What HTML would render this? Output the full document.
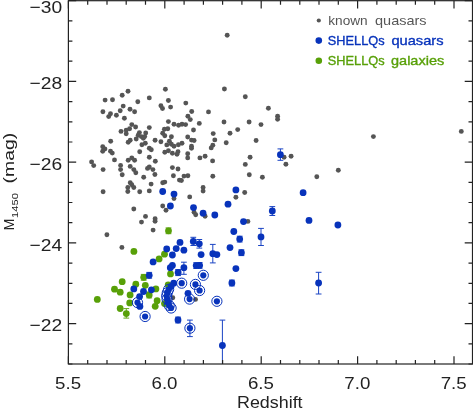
<!DOCTYPE html><html><head><meta charset="utf-8"><title>M1450 vs Redshift</title><style>html,body{margin:0;padding:0;background:#fff}svg{display:block}text{font-family:"Liberation Sans",sans-serif}</style></head><body>
<svg width="473" height="409" viewBox="0 0 473 409">
<rect width="473" height="409" fill="#fff"/>
<g fill="#555555">
<circle cx="128.0" cy="91.2" r="2.45"/>
<circle cx="122.2" cy="95.3" r="2.45"/>
<circle cx="105.1" cy="100.1" r="2.45"/>
<circle cx="112.5" cy="99.7" r="2.45"/>
<circle cx="137.8" cy="101.7" r="2.45"/>
<circle cx="149.3" cy="97.9" r="2.45"/>
<circle cx="165.4" cy="89.2" r="2.45"/>
<circle cx="168.4" cy="100.5" r="2.45"/>
<circle cx="160.9" cy="105.7" r="2.45"/>
<circle cx="162.5" cy="108.5" r="2.45"/>
<circle cx="170.6" cy="107.1" r="2.45"/>
<circle cx="123.2" cy="106.1" r="2.45"/>
<circle cx="130.0" cy="109.3" r="2.45"/>
<circle cx="134.6" cy="111.7" r="2.45"/>
<circle cx="120.2" cy="110.7" r="2.45"/>
<circle cx="102.9" cy="111.7" r="2.45"/>
<circle cx="110.5" cy="113.7" r="2.45"/>
<circle cx="108.7" cy="116.6" r="2.45"/>
<circle cx="116.4" cy="115.3" r="2.45"/>
<circle cx="124.4" cy="118.2" r="2.45"/>
<circle cx="168.4" cy="121.6" r="2.45"/>
<circle cx="174.0" cy="124.2" r="2.45"/>
<circle cx="131.8" cy="124.6" r="2.45"/>
<circle cx="135.6" cy="127.0" r="2.45"/>
<circle cx="129.6" cy="128.8" r="2.45"/>
<circle cx="126.2" cy="130.2" r="2.45"/>
<circle cx="121.0" cy="131.4" r="2.45"/>
<circle cx="126.2" cy="133.8" r="2.45"/>
<circle cx="149.3" cy="127.6" r="2.45"/>
<circle cx="139.4" cy="132.6" r="2.45"/>
<circle cx="145.7" cy="133.0" r="2.45"/>
<circle cx="138.2" cy="135.2" r="2.45"/>
<circle cx="141.3" cy="136.6" r="2.45"/>
<circle cx="144.7" cy="136.6" r="2.45"/>
<circle cx="143.3" cy="138.2" r="2.45"/>
<circle cx="136.2" cy="139.0" r="2.45"/>
<circle cx="130.2" cy="140.3" r="2.45"/>
<circle cx="128.2" cy="142.3" r="2.45"/>
<circle cx="110.7" cy="141.3" r="2.45"/>
<circle cx="164.4" cy="129.2" r="2.45"/>
<circle cx="167.8" cy="128.8" r="2.45"/>
<circle cx="162.7" cy="133.2" r="2.45"/>
<circle cx="164.8" cy="135.8" r="2.45"/>
<circle cx="171.4" cy="136.8" r="2.45"/>
<circle cx="155.1" cy="140.3" r="2.45"/>
<circle cx="160.9" cy="141.7" r="2.45"/>
<circle cx="169.4" cy="141.3" r="2.45"/>
<circle cx="166.8" cy="144.9" r="2.45"/>
<circle cx="171.4" cy="144.3" r="2.45"/>
<circle cx="174.0" cy="146.3" r="2.45"/>
<circle cx="145.3" cy="143.3" r="2.45"/>
<circle cx="141.9" cy="144.7" r="2.45"/>
<circle cx="149.3" cy="148.3" r="2.45"/>
<circle cx="151.3" cy="149.7" r="2.45"/>
<circle cx="139.7" cy="151.7" r="2.45"/>
<circle cx="102.7" cy="146.7" r="2.45"/>
<circle cx="104.9" cy="148.9" r="2.45"/>
<circle cx="102.7" cy="151.3" r="2.45"/>
<circle cx="110.5" cy="151.3" r="2.45"/>
<circle cx="112.3" cy="153.1" r="2.45"/>
<circle cx="149.3" cy="157.3" r="2.45"/>
<circle cx="164.8" cy="152.3" r="2.45"/>
<circle cx="168.4" cy="150.7" r="2.45"/>
<circle cx="172.4" cy="153.3" r="2.45"/>
<circle cx="114.5" cy="159.9" r="2.45"/>
<circle cx="131.8" cy="157.9" r="2.45"/>
<circle cx="128.2" cy="160.3" r="2.45"/>
<circle cx="134.6" cy="160.3" r="2.45"/>
<circle cx="91.6" cy="161.9" r="2.45"/>
<circle cx="155.3" cy="161.3" r="2.45"/>
<circle cx="224.4" cy="89.0" r="2.45"/>
<circle cx="245.3" cy="96.7" r="2.45"/>
<circle cx="185.8" cy="103.1" r="2.45"/>
<circle cx="191.7" cy="111.5" r="2.45"/>
<circle cx="208.5" cy="111.9" r="2.45"/>
<circle cx="268.4" cy="108.3" r="2.45"/>
<circle cx="187.9" cy="116.2" r="2.45"/>
<circle cx="190.3" cy="119.6" r="2.45"/>
<circle cx="224.0" cy="122.0" r="2.45"/>
<circle cx="249.1" cy="122.0" r="2.45"/>
<circle cx="261.0" cy="124.6" r="2.45"/>
<circle cx="199.3" cy="123.4" r="2.45"/>
<circle cx="178.6" cy="125.2" r="2.45"/>
<circle cx="182.0" cy="124.2" r="2.45"/>
<circle cx="185.6" cy="124.6" r="2.45"/>
<circle cx="193.5" cy="130.0" r="2.45"/>
<circle cx="237.7" cy="129.6" r="2.45"/>
<circle cx="230.0" cy="133.2" r="2.45"/>
<circle cx="213.2" cy="133.6" r="2.45"/>
<circle cx="187.7" cy="137.0" r="2.45"/>
<circle cx="191.5" cy="140.1" r="2.45"/>
<circle cx="194.1" cy="140.5" r="2.45"/>
<circle cx="214.8" cy="139.9" r="2.45"/>
<circle cx="256.1" cy="140.5" r="2.45"/>
<circle cx="226.2" cy="142.7" r="2.45"/>
<circle cx="182.0" cy="143.3" r="2.45"/>
<circle cx="178.4" cy="144.7" r="2.45"/>
<circle cx="212.8" cy="145.3" r="2.45"/>
<circle cx="211.2" cy="147.9" r="2.45"/>
<circle cx="191.5" cy="146.3" r="2.45"/>
<circle cx="191.5" cy="148.3" r="2.45"/>
<circle cx="178.0" cy="151.7" r="2.45"/>
<circle cx="177.0" cy="154.3" r="2.45"/>
<circle cx="187.7" cy="153.7" r="2.45"/>
<circle cx="187.7" cy="157.9" r="2.45"/>
<circle cx="199.9" cy="157.9" r="2.45"/>
<circle cx="205.1" cy="156.3" r="2.45"/>
<circle cx="250.1" cy="157.3" r="2.45"/>
<circle cx="212.6" cy="160.9" r="2.45"/>
<circle cx="277.6" cy="116.2" r="2.45"/>
<circle cx="277.6" cy="119.2" r="2.45"/>
<circle cx="291.1" cy="156.3" r="2.45"/>
<circle cx="284.1" cy="157.3" r="2.45"/>
<circle cx="93.7" cy="165.6" r="2.45"/>
<circle cx="103.1" cy="169.6" r="2.45"/>
<circle cx="120.6" cy="165.4" r="2.45"/>
<circle cx="120.6" cy="169.6" r="2.45"/>
<circle cx="122.2" cy="174.7" r="2.45"/>
<circle cx="130.2" cy="166.4" r="2.45"/>
<circle cx="133.8" cy="169.6" r="2.45"/>
<circle cx="135.8" cy="172.8" r="2.45"/>
<circle cx="147.5" cy="168.4" r="2.45"/>
<circle cx="149.3" cy="167.0" r="2.45"/>
<circle cx="152.9" cy="169.6" r="2.45"/>
<circle cx="154.9" cy="174.5" r="2.45"/>
<circle cx="143.7" cy="177.3" r="2.45"/>
<circle cx="172.4" cy="167.6" r="2.45"/>
<circle cx="173.4" cy="175.7" r="2.45"/>
<circle cx="130.2" cy="182.7" r="2.45"/>
<circle cx="131.8" cy="184.7" r="2.45"/>
<circle cx="133.8" cy="187.5" r="2.45"/>
<circle cx="127.8" cy="187.5" r="2.45"/>
<circle cx="127.8" cy="191.5" r="2.45"/>
<circle cx="103.1" cy="191.7" r="2.45"/>
<circle cx="139.7" cy="191.7" r="2.45"/>
<circle cx="149.3" cy="190.9" r="2.45"/>
<circle cx="151.1" cy="184.1" r="2.45"/>
<circle cx="162.7" cy="182.7" r="2.45"/>
<circle cx="164.8" cy="182.1" r="2.45"/>
<circle cx="174.0" cy="198.6" r="2.45"/>
<circle cx="162.7" cy="206.0" r="2.45"/>
<circle cx="166.0" cy="210.2" r="2.45"/>
<circle cx="133.8" cy="209.0" r="2.45"/>
<circle cx="145.5" cy="216.4" r="2.45"/>
<circle cx="141.5" cy="222.1" r="2.45"/>
<circle cx="155.1" cy="218.8" r="2.45"/>
<circle cx="155.1" cy="221.2" r="2.45"/>
<circle cx="153.1" cy="230.1" r="2.45"/>
<circle cx="106.9" cy="234.7" r="2.45"/>
<circle cx="245.3" cy="164.4" r="2.45"/>
<circle cx="178.0" cy="169.0" r="2.45"/>
<circle cx="184.0" cy="176.1" r="2.45"/>
<circle cx="187.9" cy="175.7" r="2.45"/>
<circle cx="179.4" cy="180.1" r="2.45"/>
<circle cx="181.4" cy="180.5" r="2.45"/>
<circle cx="212.8" cy="176.3" r="2.45"/>
<circle cx="249.3" cy="174.7" r="2.45"/>
<circle cx="262.4" cy="177.3" r="2.45"/>
<circle cx="203.1" cy="187.5" r="2.45"/>
<circle cx="203.1" cy="191.1" r="2.45"/>
<circle cx="244.7" cy="192.5" r="2.45"/>
<circle cx="235.9" cy="197.3" r="2.45"/>
<circle cx="189.7" cy="196.9" r="2.45"/>
<circle cx="194.1" cy="212.2" r="2.45"/>
<circle cx="195.7" cy="214.8" r="2.45"/>
<circle cx="205.1" cy="216.2" r="2.45"/>
<circle cx="247.9" cy="221.4" r="2.45"/>
<circle cx="285.9" cy="164.2" r="2.45"/>
<circle cx="316.8" cy="176.7" r="2.45"/>
<circle cx="338.3" cy="170.2" r="2.45"/>
<circle cx="227.2" cy="35.3" r="2.45"/>
<circle cx="373.4" cy="136.6" r="2.45"/>
<circle cx="461.3" cy="131.4" r="2.45"/>
<circle cx="121.9" cy="247.4" r="2.45"/>
<circle cx="172.8" cy="297.8" r="2.45"/>
<circle cx="195.5" cy="299.4" r="2.45"/>
</g>
<g fill="#58a008">
<path d="M168.5 227.9V233.7M165.6 227.9h5.8M165.6 233.7h5.8" stroke="#64a81a" stroke-width="1.0" fill="none"/>
<circle cx="168.5" cy="230.8" r="3.4"/>
<circle cx="133.9" cy="251.4" r="3.4"/>
<circle cx="164.5" cy="254.2" r="3.4"/>
<circle cx="159.1" cy="258.9" r="3.4"/>
<circle cx="170.5" cy="273.9" r="3.4"/>
<path d="M143.7 274.4V280.2M140.8 274.4h5.8M140.8 280.2h5.8" stroke="#64a81a" stroke-width="1.0" fill="none"/>
<circle cx="143.7" cy="277.3" r="3.4"/>
<circle cx="122.2" cy="281.7" r="3.4"/>
<circle cx="135.8" cy="284.2" r="3.4"/>
<circle cx="145.3" cy="285.3" r="3.4"/>
<circle cx="114.5" cy="289.2" r="3.4"/>
<circle cx="120.2" cy="292.2" r="3.4"/>
<circle cx="130.1" cy="294.9" r="3.4"/>
<circle cx="97.3" cy="299.4" r="3.4"/>
<circle cx="129.7" cy="302.9" r="3.4"/>
<circle cx="120.2" cy="308.5" r="3.4"/>
<path d="M126.3 308.6V318.1M123.4 308.6h5.8M123.4 318.1h5.8" stroke="#64a81a" stroke-width="1.0" fill="none"/>
<circle cx="126.3" cy="313.6" r="3.4"/>
<circle cx="155.9" cy="288.9" r="3.4"/>
<path d="M149.2 292.1V297.9M146.3 292.1h5.8M146.3 297.9h5.8" stroke="#64a81a" stroke-width="1.0" fill="none"/>
<circle cx="149.2" cy="295.0" r="3.4"/>
<circle cx="157.1" cy="300.7" r="3.4"/>
<circle cx="155.2" cy="306.3" r="3.4"/>
<circle cx="168.2" cy="284.8" r="3.4"/>
<circle cx="164.5" cy="303.6" r="3.4"/>
</g>
<g fill="#0833bb">
<path d="M280.4 148.9V160.3M277.5 148.9h5.8M277.5 160.3h5.8" stroke="#1a44c4" stroke-width="1.0" fill="none"/>
<circle cx="280.4" cy="154.7" r="3.4"/>
<circle cx="162.7" cy="191.5" r="3.4"/>
<circle cx="174.0" cy="194.1" r="3.4"/>
<circle cx="170.4" cy="206.0" r="3.4"/>
<circle cx="235.9" cy="189.9" r="3.4"/>
<circle cx="228.0" cy="204.2" r="3.4"/>
<circle cx="193.5" cy="207.6" r="3.4"/>
<circle cx="203.1" cy="213.2" r="3.4"/>
<circle cx="214.8" cy="215.0" r="3.4"/>
<circle cx="243.5" cy="221.6" r="3.4"/>
<circle cx="233.8" cy="231.5" r="3.4"/>
<path d="M239.7 236.2V242.0M236.8 236.2h5.8M236.8 242.0h5.8" stroke="#1a44c4" stroke-width="1.0" fill="none"/>
<circle cx="239.7" cy="239.1" r="3.4"/>
<path d="M261.0 228.4V245.5M258.1 228.4h5.8M258.1 245.5h5.8" stroke="#1a44c4" stroke-width="1.0" fill="none"/>
<circle cx="261.0" cy="236.9" r="3.4"/>
<circle cx="303.1" cy="192.7" r="3.4"/>
<path d="M272.3 206.6V215.5M269.4 206.6h5.8M269.4 215.5h5.8" stroke="#1a44c4" stroke-width="1.0" fill="none"/>
<circle cx="272.3" cy="211.0" r="3.4"/>
<circle cx="309.0" cy="220.4" r="3.4"/>
<circle cx="337.9" cy="225.0" r="3.4"/>
<path d="M318.6 272.3V294.0M315.7 272.3h5.8M315.7 294.0h5.8" stroke="#1a44c4" stroke-width="1.0" fill="none"/>
<circle cx="318.6" cy="283.0" r="3.4"/>
<path d="M193.3 237.3V245.5M190.4 237.3h5.8M190.4 245.5h5.8" stroke="#1a44c4" stroke-width="1.0" fill="none"/>
<circle cx="193.3" cy="241.4" r="3.4"/>
<path d="M199.3 239.5V248.1M196.4 239.5h5.8M196.4 248.1h5.8" stroke="#1a44c4" stroke-width="1.0" fill="none"/>
<circle cx="199.3" cy="243.8" r="3.4"/>
<circle cx="180.0" cy="242.4" r="3.4"/>
<circle cx="166.7" cy="248.9" r="3.4"/>
<circle cx="176.2" cy="248.6" r="3.4"/>
<circle cx="183.9" cy="250.2" r="3.4"/>
<circle cx="172.4" cy="255.0" r="3.4"/>
<circle cx="201.1" cy="254.6" r="3.4"/>
<circle cx="153.1" cy="261.9" r="3.4"/>
<circle cx="172.4" cy="265.4" r="3.4"/>
<circle cx="170.3" cy="267.7" r="3.4"/>
<path d="M183.9 262.2V274.3M181.0 262.2h5.8M181.0 274.3h5.8" stroke="#1a44c4" stroke-width="1.0" fill="none"/>
<circle cx="183.9" cy="267.7" r="3.4"/>
<path d="M178.1 269.6V275.6M175.2 269.6h5.8M175.2 275.6h5.8" stroke="#1a44c4" stroke-width="1.0" fill="none"/>
<circle cx="178.1" cy="272.4" r="3.4"/>
<path d="M196.2 262.7V268.5M193.3 262.7h5.8M193.3 268.5h5.8" stroke="#1a44c4" stroke-width="1.0" fill="none"/>
<circle cx="196.2" cy="265.6" r="3.4"/>
<path d="M199.6 262.5V268.3M196.7 262.5h5.8M196.7 268.3h5.8" stroke="#1a44c4" stroke-width="1.0" fill="none"/>
<circle cx="199.6" cy="265.4" r="3.4"/>
<path d="M149.2 272.4V278.2M146.3 272.4h5.8M146.3 278.2h5.8" stroke="#1a44c4" stroke-width="1.0" fill="none"/>
<circle cx="149.2" cy="275.3" r="3.4"/>
<circle cx="181.7" cy="283.2" r="3.1"/>
<circle cx="181.7" cy="283.2" r="5.1" fill="none" stroke="#0833bb" stroke-width="1"/>
<circle cx="195.4" cy="284.4" r="3.1"/>
<circle cx="195.4" cy="284.4" r="5.1" fill="none" stroke="#0833bb" stroke-width="1"/>
<circle cx="173.7" cy="283.2" r="3.4"/>
<circle cx="171.1" cy="286.4" r="3.4"/>
<circle cx="168.6" cy="289.5" r="3.1"/>
<circle cx="168.6" cy="289.5" r="5.1" fill="none" stroke="#0833bb" stroke-width="1"/>
<circle cx="167.3" cy="292.7" r="3.1"/>
<circle cx="167.3" cy="292.7" r="5.1" fill="none" stroke="#0833bb" stroke-width="1"/>
<circle cx="166.7" cy="295.9" r="3.1"/>
<circle cx="166.7" cy="295.9" r="5.1" fill="none" stroke="#0833bb" stroke-width="1"/>
<circle cx="167.1" cy="299.1" r="3.1"/>
<circle cx="167.1" cy="299.1" r="5.1" fill="none" stroke="#0833bb" stroke-width="1"/>
<circle cx="168.0" cy="302.2" r="3.4"/>
<circle cx="169.2" cy="305.4" r="3.1"/>
<circle cx="169.2" cy="305.4" r="5.1" fill="none" stroke="#0833bb" stroke-width="1"/>
<circle cx="171.1" cy="308.0" r="3.1"/>
<circle cx="171.1" cy="308.0" r="5.1" fill="none" stroke="#0833bb" stroke-width="1"/>
<circle cx="151.4" cy="289.8" r="3.4"/>
<circle cx="143.5" cy="291.5" r="3.4"/>
<circle cx="139.6" cy="296.6" r="3.4"/>
<circle cx="137.5" cy="302.6" r="3.1"/>
<circle cx="137.5" cy="302.6" r="5.1" fill="none" stroke="#0833bb" stroke-width="1"/>
<circle cx="139.9" cy="306.4" r="3.4"/>
<circle cx="145.1" cy="316.5" r="3.1"/>
<circle cx="145.1" cy="316.5" r="5.1" fill="none" stroke="#0833bb" stroke-width="1"/>
<path d="M178.0 317.1V322.9M175.1 317.1h5.8M175.1 322.9h5.8" stroke="#1a44c4" stroke-width="1.0" fill="none"/>
<circle cx="178.0" cy="320.0" r="3.4"/>
<path d="M189.9 320.1V336.6M187.0 320.1h5.8M187.0 336.6h5.8" stroke="#1a44c4" stroke-width="1.0" fill="none"/>
<circle cx="189.9" cy="328.2" r="3.1"/>
<circle cx="189.9" cy="328.2" r="5.1" fill="none" stroke="#0833bb" stroke-width="1"/>
<path d="M222.4 320.1V364.0M219.5 320.1h5.8" stroke="#1a44c4" stroke-width="1.0" fill="none"/>
<circle cx="222.4" cy="345.5" r="3.4"/>
<circle cx="188.0" cy="293.3" r="3.4"/>
<circle cx="189.6" cy="299.1" r="3.1"/>
<circle cx="189.6" cy="299.1" r="5.1" fill="none" stroke="#0833bb" stroke-width="1"/>
<circle cx="199.6" cy="290.5" r="3.1"/>
<circle cx="199.6" cy="290.5" r="5.1" fill="none" stroke="#0833bb" stroke-width="1"/>
<circle cx="133.8" cy="288.9" r="3.4"/>
<path d="M212.8 244.4V262.9M209.9 244.4h5.8M209.9 262.9h5.8" stroke="#1a44c4" stroke-width="1.0" fill="none"/>
<circle cx="212.8" cy="253.7" r="3.4"/>
<circle cx="216.9" cy="254.6" r="3.4"/>
<circle cx="230.0" cy="247.6" r="3.4"/>
<path d="M241.4 249.8V255.6M238.5 249.8h5.8M238.5 255.6h5.8" stroke="#1a44c4" stroke-width="1.0" fill="none"/>
<circle cx="241.4" cy="252.7" r="3.4"/>
<circle cx="235.9" cy="268.6" r="3.4"/>
<circle cx="203.3" cy="275.3" r="3.1"/>
<circle cx="203.3" cy="275.3" r="5.1" fill="none" stroke="#0833bb" stroke-width="1"/>
<path d="M231.9 280.1V285.9M229.0 280.1h5.8M229.0 285.9h5.8" stroke="#1a44c4" stroke-width="1.0" fill="none"/>
<circle cx="231.9" cy="283.0" r="3.4"/>
<circle cx="216.9" cy="301.3" r="3.1"/>
<circle cx="216.9" cy="301.3" r="5.1" fill="none" stroke="#0833bb" stroke-width="1"/>
</g>
<g stroke="#222" stroke-width="1.2" fill="none">
<rect x="68.4" y="0.7" width="404.1" height="363.3"/>
<path d="M68.4 364.0v-7.8M68.4 0.7v7.8M87.7 364.0v-4.0M87.7 0.7v4.0M107.0 364.0v-4.0M107.0 0.7v4.0M126.2 364.0v-4.0M126.2 0.7v4.0M145.5 364.0v-4.0M145.5 0.7v4.0M164.8 364.0v-7.8M164.8 0.7v7.8M184.1 364.0v-4.0M184.1 0.7v4.0M203.4 364.0v-4.0M203.4 0.7v4.0M222.6 364.0v-4.0M222.6 0.7v4.0M241.9 364.0v-4.0M241.9 0.7v4.0M261.2 364.0v-7.8M261.2 0.7v7.8M280.5 364.0v-4.0M280.5 0.7v4.0M299.8 364.0v-4.0M299.8 0.7v4.0M319.0 364.0v-4.0M319.0 0.7v4.0M338.3 364.0v-4.0M338.3 0.7v4.0M357.6 364.0v-7.8M357.6 0.7v7.8M376.9 364.0v-4.0M376.9 0.7v4.0M396.2 364.0v-4.0M396.2 0.7v4.0M415.4 364.0v-4.0M415.4 0.7v4.0M434.7 364.0v-4.0M434.7 0.7v4.0M454.0 364.0v-7.8M454.0 0.7v7.8M68.4 0.7h7.8M472.5 0.7h-7.8M68.4 20.9h4.0M472.5 20.9h-4.0M68.4 41.1h4.0M472.5 41.1h-4.0M68.4 61.2h4.0M472.5 61.2h-4.0M68.4 81.4h7.8M472.5 81.4h-7.8M68.4 101.6h4.0M472.5 101.6h-4.0M68.4 121.8h4.0M472.5 121.8h-4.0M68.4 142.0h4.0M472.5 142.0h-4.0M68.4 162.2h7.8M472.5 162.2h-7.8M68.4 182.3h4.0M472.5 182.3h-4.0M68.4 202.5h4.0M472.5 202.5h-4.0M68.4 222.7h4.0M472.5 222.7h-4.0M68.4 242.9h7.8M472.5 242.9h-7.8M68.4 263.1h4.0M472.5 263.1h-4.0M68.4 283.3h4.0M472.5 283.3h-4.0M68.4 303.4h4.0M472.5 303.4h-4.0M68.4 323.6h7.8M472.5 323.6h-7.8M68.4 343.8h4.0M472.5 343.8h-4.0M68.4 364.0h4.0M472.5 364.0h-4.0"/>
</g>
<g fill="#222" font-size="17px">
<text x="29.6" y="12.8" textLength="32.6" lengthAdjust="spacingAndGlyphs">−30</text>
<text x="29.6" y="89.0" textLength="32.6" lengthAdjust="spacingAndGlyphs">−28</text>
<text x="29.6" y="169.8" textLength="32.6" lengthAdjust="spacingAndGlyphs">−26</text>
<text x="29.6" y="250.5" textLength="32.6" lengthAdjust="spacingAndGlyphs">−24</text>
<text x="29.6" y="331.2" textLength="32.6" lengthAdjust="spacingAndGlyphs">−22</text>
<text x="55.1" y="388.6" textLength="26.0" lengthAdjust="spacingAndGlyphs">5.5</text>
<text x="151.5" y="388.6" textLength="26.0" lengthAdjust="spacingAndGlyphs">6.0</text>
<text x="247.9" y="388.6" textLength="26.0" lengthAdjust="spacingAndGlyphs">6.5</text>
<text x="344.3" y="388.6" textLength="26.0" lengthAdjust="spacingAndGlyphs">7.0</text>
<text x="440.7" y="388.6" textLength="26.0" lengthAdjust="spacingAndGlyphs">7.5</text>
</g>
<text x="237.0" y="408.2" font-size="15.6px" textLength="65.6" lengthAdjust="spacingAndGlyphs" fill="#222">Redshift</text>
<text transform="translate(14.2,230.4) rotate(-90)" font-size="14px" textLength="12.0" lengthAdjust="spacingAndGlyphs" fill="#222">M</text>
<text transform="translate(18.4,218.0) rotate(-90)" font-size="8.8px" textLength="25.0" lengthAdjust="spacingAndGlyphs" fill="#222">1450</text>
<text transform="translate(14.2,183.4) rotate(-90)" font-size="14px" textLength="50.6" lengthAdjust="spacingAndGlyphs" fill="#222">(mag)</text>
<circle cx="318.8" cy="20.5" r="2.1" fill="#555555"/>
<circle cx="318.8" cy="40.6" r="3.3" fill="#0833bb"/>
<circle cx="318.8" cy="60.8" r="3.3" fill="#58a008"/>
<text x="328.3" y="24.5" font-size="13.2px" textLength="39.4" lengthAdjust="spacingAndGlyphs" fill="#555555">known</text>
<text x="375.0" y="24.5" font-size="13.2px" textLength="51.6" lengthAdjust="spacingAndGlyphs" fill="#555555">quasars</text>
<text x="327.8" y="44.8" font-size="13.2px" textLength="56.8" lengthAdjust="spacingAndGlyphs" fill="#0833bb" stroke="#0833bb" stroke-width="0.35">SHELLQs</text>
<text x="391.4" y="44.8" font-size="13.2px" textLength="52.2" lengthAdjust="spacingAndGlyphs" fill="#0833bb" stroke="#0833bb" stroke-width="0.35">quasars</text>
<text x="327.8" y="64.8" font-size="13.2px" textLength="56.8" lengthAdjust="spacingAndGlyphs" fill="#58a008" stroke="#58a008" stroke-width="0.35">SHELLQs</text>
<text x="391.0" y="64.8" font-size="13.2px" textLength="53.2" lengthAdjust="spacingAndGlyphs" fill="#58a008" stroke="#58a008" stroke-width="0.35">galaxies</text>
</svg></body></html>
